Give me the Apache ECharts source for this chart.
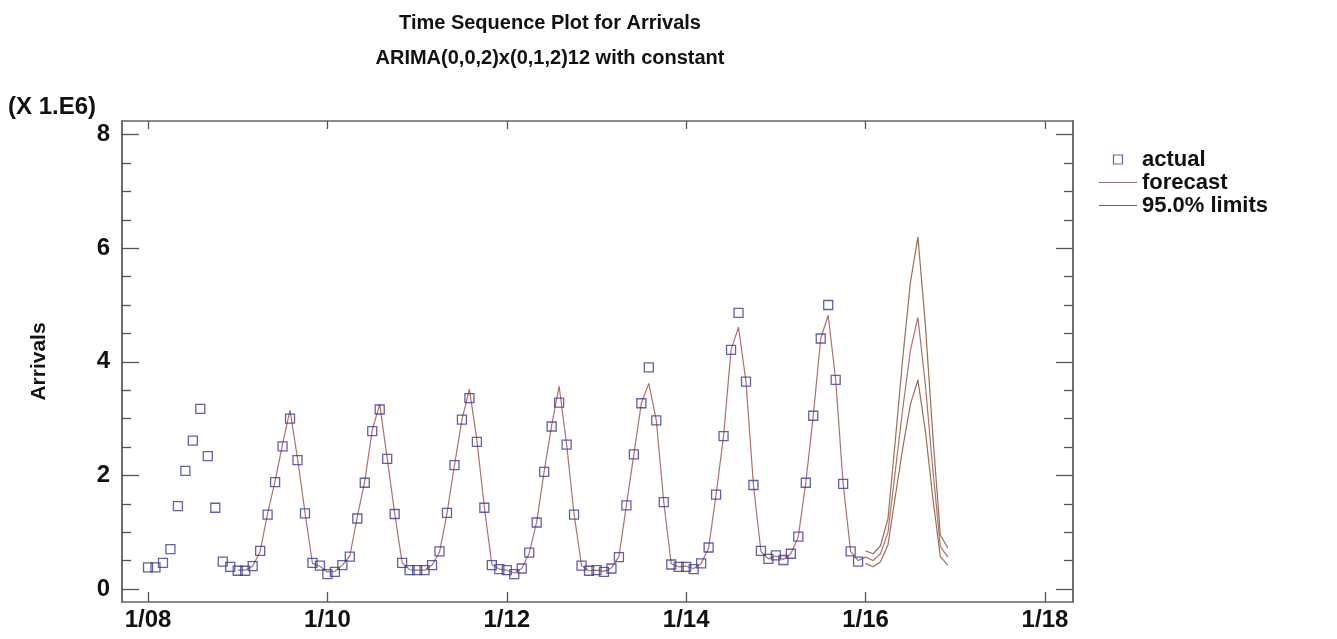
<!DOCTYPE html>
<html>
<head>
<meta charset="utf-8">
<script src="https://cdn.jsdelivr.net/npm/echarts@6/dist/echarts.min.js"></script>
<style>html,body{margin:0;padding:0;background:#fff}#c{width:1337px;height:639px}</style>
</head>
<body>
<div id="c"></div>
<script>
// Months counted from January 2008 (index 0)
const actualStart = 0;
const actual = [
  0.38,0.38,0.46,0.70,1.46,2.08,2.61,3.17,2.34,1.43,0.48,0.39,
  0.32,0.32,0.40,0.67,1.31,1.88,2.51,3.00,2.27,1.33,0.46,0.41,
  0.26,0.30,0.42,0.57,1.24,1.87,2.78,3.16,2.29,1.32,0.46,0.33,
  0.33,0.33,0.42,0.66,1.34,2.18,2.98,3.36,2.59,1.43,0.42,0.35,
  0.33,0.26,0.36,0.64,1.17,2.06,2.86,3.28,2.54,1.31,0.41,0.32,
  0.33,0.30,0.36,0.56,1.47,2.37,3.27,3.90,2.97,1.53,0.43,0.39,
  0.39,0.35,0.45,0.73,1.66,2.69,4.21,4.86,3.65,1.83,0.67,0.53,
  0.59,0.51,0.62,0.92,1.87,3.05,4.41,5.00,3.68,1.85,0.66,0.48
];
const forecastStart = 12;
const forecast = [
  0.33,0.33,0.40,0.66,1.33,1.90,2.55,3.15,2.30,1.35,0.45,0.40,
  0.30,0.31,0.42,0.58,1.27,1.90,2.80,3.25,2.30,1.33,0.46,0.34,
  0.33,0.33,0.42,0.65,1.33,2.18,2.98,3.52,2.62,1.43,0.43,0.35,
  0.33,0.28,0.36,0.63,1.18,2.07,2.88,3.57,2.55,1.32,0.41,0.32,
  0.33,0.31,0.37,0.57,1.47,2.37,3.27,3.62,2.97,1.53,0.44,0.39,
  0.40,0.36,0.45,0.72,1.66,2.69,4.21,4.61,3.65,1.83,0.66,0.53,
  0.58,0.52,0.62,0.92,1.87,3.05,4.41,4.82,3.68,1.85,0.66,0.50,
  0.56,0.50,0.62,1.00,2.10,3.20,4.20,4.78,3.60,2.10,0.75,0.56
];
const limitsStart = 96;
const upper = [0.67,0.62,0.76,1.24,2.65,4.10,5.40,6.20,4.65,2.70,0.95,0.72];
const lower = [0.45,0.39,0.48,0.78,1.65,2.50,3.25,3.68,2.78,1.60,0.57,0.42];

const xTicks = [0,24,48,72,96,120];
const yMajor = [0,2,4,6,8];
const yMinor = [0.5,1,1.5,2.5,3,3.5,4.5,5,5.5,6.5,7,7.5];

const pairs = (arr, start) => arr.map((v,i) => [start + i, v]);
const FONT = 'Liberation Sans, Arial, sans-serif';
const frame = '#666';
const actualColor = '#3a3a9a';
const fcColor = '#b0706a';
const limColor = '#9a7050';
const xMin = -3.48, xMax = 123.75, yMin = -0.23, yMax = 8.24;
const xLabel = v => '1/' + String(8 + v/12).padStart(2,'0');

function yAx(pos, ticks, len, labels) {
  return {
    type:'value', position:pos, min:yMin, max:yMax,
    axisLine:{show:true, onZero:false, lineStyle:{color:frame, width:1.5}},
    axisTick:{show:true, inside:true, length:len, customValues:ticks, lineStyle:{color:'#555', width:1.3}},
    axisLabel: labels ? {show:true, customValues:ticks, fontFamily:FONT, fontWeight:'bold', fontSize:24, color:'#111', margin:12} : {show:false},
    splitLine:{show:false}
  };
}

const chart = echarts.init(document.getElementById('c'), null, {renderer:'canvas'});
chart.setOption({
  animation:false,
  backgroundColor:'#fff',
  title:[
    {text:'Time Sequence Plot for Arrivals\nARIMA(0,0,2)x(0,1,2)12 with constant', left:545, top:1, textAlign:'center',
     textStyle:{fontFamily:FONT, fontWeight:'bold', fontSize:20, color:'#111', lineHeight:35}},
    {text:'(X 1.E6)', left:3, top:90, textStyle:{fontFamily:FONT, fontWeight:'bold', fontSize:24, color:'#111'}}
  ],
  legend:{
    orient:'vertical', left:1094, top:143, itemWidth:38, itemHeight:9, itemGap:0,
    textStyle:{fontFamily:FONT, fontWeight:'bold', fontSize:22, color:'#111', lineHeight:23},
    data:[
      {name:'actual', icon:'path://M0,0 H9 V9 H0 Z', itemStyle:{color:'rgba(0,0,0,0)', borderColor:actualColor, borderWidth:1.2}},
      {name:'forecast', icon:'path://M0,0 H40 V1.3 H0 Z', itemStyle:{color:'#8a6a80', borderWidth:0}},
      {name:'95.0% limits', icon:'path://M0,0 H40 V1.3 H0 Z', itemStyle:{color:'#7a5a4e', borderWidth:0}}
    ]
  },
  grid:{left:122, right:264, top:121, bottom:37, containLabel:false},
  xAxis:[
    {type:'value', position:'bottom', min:xMin, max:xMax,
     axisLine:{show:true, onZero:false, lineStyle:{color:frame, width:1.5}},
     axisTick:{show:true, inside:true, length:10, customValues:xTicks, lineStyle:{color:'#555', width:1.3}},
     axisLabel:{show:true, customValues:xTicks, formatter:xLabel, fontFamily:FONT, fontWeight:'bold', fontSize:24, color:'#111', margin:6},
     splitLine:{show:false}},
    {type:'value', position:'top', min:xMin, max:xMax,
     axisLine:{show:true, onZero:false, lineStyle:{color:frame, width:1.5}},
     axisTick:{show:true, inside:true, length:8, customValues:xTicks, lineStyle:{color:'#555', width:1.3}},
     axisLabel:{show:false}, splitLine:{show:false}}
  ],
  yAxis:[
    Object.assign(yAx('left', yMajor, 17, true), {name:'Arrivals', nameLocation:'middle', nameRotate:90, nameGap:72,
      nameTextStyle:{fontFamily:FONT, fontWeight:'bold', fontSize:21, color:'#111'}}),
    yAx('left', yMinor, 9, false),
    yAx('right', yMajor, 17, false),
    yAx('right', yMinor, 9, false)
  ],
  series:[
    {name:'forecast', type:'line', xAxisIndex:0, yAxisIndex:0, data:pairs(forecast, forecastStart),
     symbol:'none', lineStyle:{color:fcColor, width:1.2}, itemStyle:{color:'#8a6a80'}, z:2},
    {name:'95.0% limits', type:'line', xAxisIndex:0, yAxisIndex:0, data:pairs(upper, limitsStart),
     symbol:'none', lineStyle:{color:limColor, width:1.2}, itemStyle:{color:'#7a5a4e'}, z:2},
    {name:'95.0% limits', type:'line', xAxisIndex:0, yAxisIndex:0, data:pairs(lower, limitsStart),
     symbol:'none', lineStyle:{color:limColor, width:1.2}, itemStyle:{color:'#7a5a4e'}, z:2},
    {name:'actual', type:'scatter', xAxisIndex:0, yAxisIndex:0, data:pairs(actual, actualStart),
     symbol:'rect', symbolSize:9, itemStyle:{color:'rgba(0,0,0,0)', borderColor:actualColor, borderWidth:1.3}, z:3}
  ]
});
</script>
</body>
</html>
